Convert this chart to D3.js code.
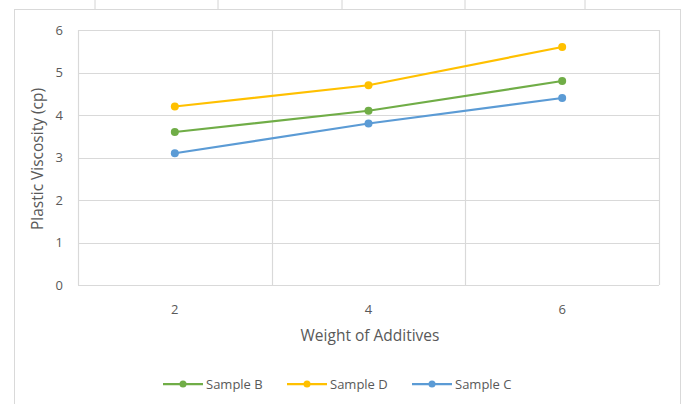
<!DOCTYPE html>
<html>
<head>
<meta charset="utf-8">
<script src="https://cdn.jsdelivr.net/npm/d3@7"></script>
<style>
  body { margin: 0; background: #fff; }
  text { font-family: "Open Sans", "Liberation Sans", sans-serif; fill: #595959; }
</style>
</head>
<body>
<div id="chart"></div>
<script>
const categories = ["2", "4", "6"];
const sampleB = [3.6, 4.1, 4.8];
const sampleD = [4.2, 4.7, 5.6];
const sampleC = [3.1, 3.8, 4.4];
const yTicks = [0, 1, 2, 3, 4, 5, 6];

const series = [
    { name: "Sample B", values: sampleB, color: "#70AD47" },
    { name: "Sample D", values: sampleD, color: "#FFC000" },
    { name: "Sample C", values: sampleC, color: "#5B9BD5" }
];

const width = 687;
const height = 404;
const margin = { top: 30, right: 28, bottom: 119, left: 78 };

const svg = d3.select("#chart")
    .append("svg")
    .attr("width", width)
    .attr("height", height);

// spreadsheet cells peeking above the chart
const cellLines = [95, 218, 342, 465, 585];
svg.selectAll(".cell")
    .data(cellLines)
    .enter()
    .append("line")
    .attr("x1", d => d).attr("x2", d => d)
    .attr("y1", 0).attr("y2", 9)
    .attr("stroke", "#d4d4d4");

// chart border
svg.append("rect")
    .attr("x", 14.5)
    .attr("y", 9.5)
    .attr("width", 666)
    .attr("height", 420)
    .attr("fill", "#fff")
    .attr("stroke", "#d9d9d9");

const x = d3.scaleBand()
    .domain(categories)
    .range([margin.left, width - margin.right])
    .padding(0);

const y = d3.scaleLinear()
    .domain([0, 6])
    .range([height - margin.bottom, margin.top]);

// horizontal gridlines
svg.selectAll(".hgrid")
    .data(yTicks)
    .enter()
    .append("line")
    .attr("x1", margin.left)
    .attr("x2", width - margin.right)
    .attr("y1", d => Math.round(y(d)) + 0.5)
    .attr("y2", d => Math.round(y(d)) + 0.5)
    .attr("stroke", "#d9d9d9")
    .attr("stroke-width", 1.2);

// vertical gridlines at category boundaries
const bounds = categories.map(c => x(c)).concat([x.range()[1]]);
svg.selectAll(".vgrid")
    .data(bounds)
    .enter()
    .append("line")
    .attr("x1", d => Math.round(d) + 0.5)
    .attr("x2", d => Math.round(d) + 0.5)
    .attr("y1", margin.top)
    .attr("y2", height - margin.bottom)
    .attr("stroke", "#d9d9d9")
    .attr("stroke-width", 1.2);

// y tick labels
svg.selectAll(".ylab")
    .data(yTicks)
    .enter()
    .append("text")
    .attr("x", 63)
    .attr("y", d => y(d) + 4.5)
    .attr("text-anchor", "end")
    .style("font-size", "13px")
    .text(d => d);

// x tick labels
svg.selectAll(".xlab")
    .data(categories)
    .enter()
    .append("text")
    .attr("x", d => x(d) + x.bandwidth() / 2)
    .attr("y", 314)
    .attr("text-anchor", "middle")
    .style("font-size", "13px")
    .text(d => d);

// axis titles
svg.append("text")
    .attr("x", 370)
    .attr("y", 341)
    .attr("text-anchor", "middle")
    .style("font-size", "15.5px")
    .text("Weight of Additives");

svg.append("text")
    .attr("transform", "rotate(-90)")
    .attr("x", -159)
    .attr("y", 43)
    .attr("text-anchor", "middle")
    .style("font-size", "15.5px")
    .text("Plastic Viscosity (cp)");

// lines and markers
const line = d3.line()
    .x((d, i) => x(categories[i]) + x.bandwidth() / 2)
    .y(d => y(d));

series.forEach(s => {
    svg.append("path")
        .datum(s.values)
        .attr("d", line)
        .attr("fill", "none")
        .attr("stroke", s.color)
        .attr("stroke-width", 2.25);

    svg.selectAll(null)
        .data(s.values)
        .enter()
        .append("circle")
        .attr("cx", (d, i) => x(categories[i]) + x.bandwidth() / 2)
        .attr("cy", d => y(d))
        .attr("r", 4)
        .attr("fill", s.color);
});

// legend
const legendX = [163, 287, 412];
const legend = svg.selectAll(".legend")
    .data(series)
    .enter()
    .append("g")
    .attr("transform", (d, i) => `translate(${legendX[i]}, 384)`);

legend.append("line")
    .attr("x1", 0).attr("x2", 40)
    .attr("y1", 0).attr("y2", 0)
    .attr("stroke", d => d.color)
    .attr("stroke-width", 2.25);

legend.append("circle")
    .attr("cx", 20).attr("cy", 0)
    .attr("r", 3.5)
    .attr("fill", d => d.color);

legend.append("text")
    .attr("x", 43)
    .attr("y", 4.5)
    .style("font-size", "13px")
    .text(d => d.name);
</script>
</body>
</html>
